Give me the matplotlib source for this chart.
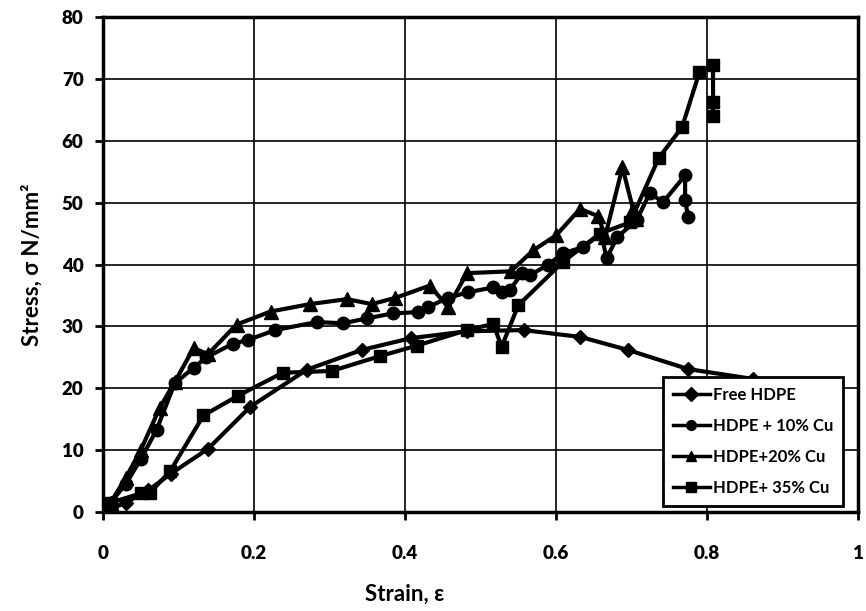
import matplotlib
matplotlib.use("Agg")
import matplotlib.pyplot as plt

plt.rcParams['font.family'] = ['Lato', 'DejaVu Sans']
plt.rcParams['font.weight'] = 'bold'

# Free HDPE
free_x = [0, 0.01, 0.03, 0.06, 0.09, 0.139, 0.195, 0.27, 0.343, 0.408, 0.482, 0.557, 0.632, 0.695, 0.775, 0.861]
free_y = [0, 0.5, 1.5, 3.5, 6.2, 10.2, 17.0, 23.0, 26.2, 28.1, 29.2, 29.4, 28.3, 26.2, 23.1, 21.5]

# HDPE + 10% Cu
cu10_x = [0, 0.01, 0.03, 0.05, 0.071, 0.095, 0.12, 0.137, 0.172, 0.192, 0.228, 0.283, 0.318,
          0.35, 0.384, 0.417, 0.43, 0.457, 0.483, 0.517, 0.528, 0.539, 0.555, 0.566, 0.59,
          0.609, 0.636, 0.66, 0.667, 0.681, 0.707, 0.724, 0.742, 0.771, 0.771, 0.775]
cu10_y = [0, 1.5, 4.5, 8.5, 13.3, 20.8, 23.3, 25.0, 27.2, 27.8, 29.4, 30.7, 30.5,
          31.3, 32.1, 32.3, 33.1, 34.6, 35.5, 36.3, 35.5, 35.9, 38.6, 38.3, 40.0,
          41.8, 42.8, 45.0, 41.0, 44.4, 47.2, 51.5, 50.1, 54.4, 50.4, 47.7]

# HDPE + 20% Cu
cu20_x = [0, 0.01, 0.03, 0.05, 0.075, 0.095, 0.12, 0.139, 0.177, 0.222, 0.274, 0.323, 0.356,
          0.387, 0.433, 0.457, 0.482, 0.54, 0.57, 0.6, 0.632, 0.656, 0.665, 0.688, 0.702, 0.706]
cu20_y = [0, 1.5, 5.5, 10.0, 16.8, 21.0, 26.5, 25.5, 30.3, 32.4, 33.6, 34.4, 33.6,
          34.6, 36.6, 33.1, 38.6, 38.9, 42.3, 44.7, 49.0, 47.8, 44.5, 55.7, 49.0, 47.3]

# HDPE + 35% Cu
cu35_x = [0, 0, 0.01, 0.05, 0.062, 0.089, 0.133, 0.179, 0.238, 0.303, 0.367, 0.416, 0.482,
          0.517, 0.528, 0.55, 0.609, 0.658, 0.698, 0.736, 0.767, 0.79, 0.808, 0.808, 0.808]
cu35_y = [0, 1.2, 1.5, 3.0, 3.1, 6.6, 15.6, 18.8, 22.5, 22.8, 25.2, 26.9, 29.4,
          30.4, 26.7, 33.4, 40.4, 45.0, 46.8, 57.2, 62.2, 71.1, 72.3, 66.3, 64.0]

x_ticks = [0, 0.2, 0.4, 0.6, 0.8, 1]
x_ticklabels = ['0', '0.2', '0.4', '0.6', '0.8', '1']
y_ticks = [0, 10, 20, 30, 40, 50, 60, 70, 80]

fig = plt.figure(figsize=(8.66, 6.11), dpi=100)
ax = fig.add_axes([103 / 866, 1 - 512 / 611, 755 / 866, 495 / 611])

lw = 3.0
ax.plot(free_x, free_y, color='black', lw=lw, marker='D', ms=7.5, label='Free HDPE', zorder=3)
ax.plot(cu10_x, cu10_y, color='black', lw=lw, marker='o', ms=9, label='HDPE + 10% Cu', zorder=3)
ax.plot(cu20_x, cu20_y, color='black', lw=lw, marker='^', ms=10, label='HDPE+20% Cu', zorder=3)
ax.plot(cu35_x, cu35_y, color='black', lw=lw, marker='s', ms=9, label='HDPE+ 35% Cu', zorder=3)

ax.set_xlim(0, 1)
ax.set_ylim(0, 80)
ax.set_xticks(x_ticks)
ax.set_xticklabels(x_ticklabels)
ax.set_yticks(y_ticks)
ax.grid(True, color='black', lw=1.2)
ax.set_axisbelow(True)

for s in ax.spines.values():
    s.set_linewidth(2.5)
    s.set_color('black')

ax.tick_params(axis='both', direction='out', width=2, length=6, labelsize=13.5, colors='black')
ax.tick_params(axis='x', pad=18)
ax.tick_params(axis='y', pad=8)
for lab in ax.get_xticklabels() + ax.get_yticklabels():
    lab.set_fontweight('heavy')

ax.set_xlabel('Strain, ε', fontsize=16, fontweight='bold')
ax.set_ylabel('Stress, σ N/mm²', fontsize=16, fontweight='bold')
ax.xaxis.set_label_coords(0.40, -0.145)
ax.yaxis.set_label_coords(-0.08, 0.5)

leg = ax.legend(loc='lower right', bbox_to_anchor=(0.985, 0.005), frameon=True, fancybox=False,
                edgecolor='black', fontsize=12, handlelength=2.2, labelspacing=0.9,
                borderpad=0.6, handletextpad=0.2, borderaxespad=0.2)
leg.get_frame().set_linewidth(2.0)
leg.get_frame().set_alpha(1)
for t in leg.get_texts():
    t.set_fontweight('bold')
for h in leg.legend_handles:
    h.set_markersize(7)
    h.set_linewidth(2.5)

fig.savefig('out.png', dpi=100)
